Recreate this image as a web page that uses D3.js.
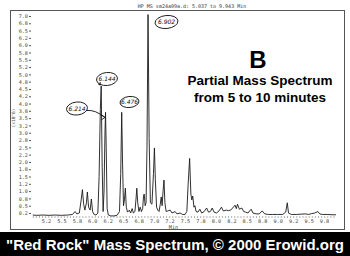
<!DOCTYPE html>
<html><head><meta charset="utf-8">
<script src="https://cdn.jsdelivr.net/npm/d3@7"></script>
<style>html,body{margin:0;padding:0;background:#fff;overflow:hidden}svg{display:block}</style>
</head><body>
<script>
// ---- data ----
const traceTime = [5.037,5.10,5.20,5.30,5.40,5.50,5.60,5.68,5.72,5.75,5.79,5.82,5.84,5.86,5.88,5.905,5.92,5.94,5.965,5.985,6.005,6.03,6.06,6.09,6.11,6.13,6.144,6.16,6.175,6.19,6.205,6.214,6.225,6.24,6.26,6.30,6.35,6.40,6.44,6.46,6.476,6.49,6.505,6.52,6.535,6.55,6.57,6.60,6.62,6.645,6.665,6.69,6.71,6.72,6.735,6.755,6.775,6.795,6.815,6.83,6.84,6.855,6.87,6.885,6.902,6.92,6.94,6.965,6.99,7.005,7.02,7.04,7.06,7.08,7.10,7.115,7.13,7.145,7.16,7.175,7.195,7.22,7.26,7.29,7.34,7.37,7.42,7.46,7.50,7.53,7.55,7.575,7.595,7.61,7.625,7.645,7.66,7.68,7.71,7.74,7.77,7.81,7.85,7.88,7.91,7.94,7.97,8.01,8.05,8.09,8.12,8.17,8.20,8.24,8.27,8.31,8.33,8.35,8.38,8.42,8.45,8.48,8.52,8.57,8.60,8.65,8.70,8.75,8.79,8.85,8.92,9.00,9.08,9.13,9.155,9.175,9.22,9.30,9.38,9.45,9.50,9.55,9.60,9.65,9.68,9.72,9.80,9.88,9.943];
const traceAbund = [0.18,0.17,0.18,0.17,0.18,0.17,0.18,0.20,0.30,0.22,0.25,0.70,1.05,0.55,0.35,0.60,0.97,0.45,0.35,0.73,0.30,0.20,0.18,0.25,1.50,3.80,4.60,1.80,0.30,1.00,3.00,3.70,2.50,0.40,0.18,0.15,0.15,0.17,0.30,1.60,3.70,1.90,0.50,0.70,1.10,0.45,0.28,0.35,0.25,0.40,0.25,0.30,0.80,1.10,0.60,0.30,0.45,0.30,0.40,0.85,0.90,0.50,0.60,2.50,7.05,2.80,0.60,0.55,1.60,2.48,1.40,0.45,0.35,0.30,0.55,0.80,0.50,1.00,1.38,0.60,0.30,0.32,0.35,0.25,0.30,0.22,0.25,0.20,0.20,0.30,1.20,2.12,0.90,0.70,0.83,0.45,0.50,0.30,0.28,0.38,0.25,0.30,0.42,0.28,0.30,0.42,0.28,0.25,0.32,0.45,0.32,0.35,0.33,0.35,0.42,0.52,0.40,0.55,0.38,0.42,0.30,0.28,0.25,0.38,0.25,0.22,0.22,0.32,0.22,0.20,0.20,0.20,0.20,0.28,0.60,0.25,0.20,0.20,0.21,0.22,0.20,0.23,0.25,0.30,0.22,0.20,0.20,0.19,0.19];

const xTickValues = [5.25,5.5,5.75,6.0,6.25,6.5,6.75,7.0,7.25,7.5,7.75,8.0,8.25,8.5,8.75,9.0,9.25,9.5,9.75];
const xTickLabels = ["5.2","5.5","5.8","6.0","6.2","6.5","6.8","7.0","7.2","7.5","7.8","8.0","8.2","8.5","8.8","9.0","9.2","9.5","9.8"];
const yTickValues = [0.25,0.5,0.75,1.0,1.25,1.5,1.75,2.0,2.25,2.5,2.75,3.0,3.25,3.5,3.75,4.0,4.25,4.5,4.75,5.0,5.25,5.5,5.75,6.0,6.25,6.5,6.75,7.0];
const yTickLabels = ["0.2","0.5","0.8","1.0","1.2","1.5","1.8","2.0","2.2","2.5","2.8","3.0","3.2","3.5","3.8","4.0","4.2","4.5","4.8","5.0","5.2","5.5","5.8","6.0","6.2","6.5","6.8","7.0"];

const peakLabels = ["6.214","6.144","6.476","6.902"];
const peakTimes  = [6.214, 6.144, 6.476, 6.902];

const W = 350, H = 256;
const svg = d3.select("body").append("svg").attr("width", W).attr("height", H);

const x = d3.scaleLinear().domain([5, 10]).range([30.5, 339.5]);
const y = d3.scaleLinear().domain([0.25, 7]).range([213, 16]);

// frame
svg.append("rect").attr("x", 10.5).attr("y", 10.5).attr("width", 334).attr("height", 219)
  .attr("fill", "none").attr("stroke", "#555").attr("stroke-width", 1);

// header
svg.append("text").attr("x", 192).attr("y", 8).attr("text-anchor", "middle")
  .attr("font-family", "DejaVu Sans Mono").attr("font-size", 5).attr("fill", "#333")
  .text("HP MS sm24a09a.d:    5.037 to 9.943 Min");

// y axis
const yAxis = d3.axisLeft(y).tickValues(yTickValues).tickSize(2).tickPadding(1)
  .tickFormat((d, i) => yTickLabels[i]);
const gy = svg.append("g").attr("transform", "translate(31,0)").call(yAxis);
gy.select(".domain").remove();
gy.selectAll("text").attr("font-family", "DejaVu Sans Mono").attr("font-size", 5.2).attr("fill", "#444");
gy.selectAll("line").attr("stroke", "#555");

svg.append("text").attr("transform", "translate(15,118) rotate(-90)").attr("text-anchor", "middle")
  .attr("font-family", "DejaVu Sans Mono").attr("font-size", 4.5).attr("fill", "#555").text("(x10^6)");

// x axis
const xAxis = d3.axisBottom(x).tickValues(xTickValues).tickSize(0).tickPadding(2)
  .tickFormat((d, i) => xTickLabels[i]);
const gx = svg.append("g").attr("transform", "translate(0,217)").call(xAxis);
gx.select(".domain").attr("stroke", "#666").attr("stroke-dasharray", "1,2.1").attr("d", `M${x(5.037)},0H${x(9.943)}`);
gx.selectAll("text").attr("font-family", "DejaVu Sans Mono").attr("font-size", 5.2).attr("fill", "#444");
svg.append("text").attr("x", x(7.25) + 4).attr("y", 229).attr("text-anchor", "middle")
  .attr("font-family", "DejaVu Sans Mono").attr("font-size", 5.2).attr("fill", "#444").text("Min");

// trace
svg.append("clipPath").attr("id", "clip").append("rect").attr("x", 11).attr("y", 11).attr("width", 333).attr("height", 218);
const pts = traceTime.map((t, i) => [t, traceAbund[i]]);
svg.append("path").datum(pts).attr("clip-path", "url(#clip)")
  .attr("d", d3.line().x(d => x(d[0])).y(d => y(d[1])))
  .attr("fill", "none").attr("stroke", "#1a1a1a").attr("stroke-width", 0.9).attr("stroke-linejoin", "round");

// hand-drawn annotations
const ann = [
  {cx: 77, cy: 108.5, rx: 10.5, ry: 6.5},
  {cx: 107, cy: 79, rx: 10.5, ry: 6.5},
  {cx: 129.5, cy: 102, rx: 9.5, ry: 5.5},
  {cx: 166.5, cy: 22, rx: 11.5, ry: 6.5}
];
const ga = svg.append("g");
ann.forEach((a, i) => {
  ga.append("ellipse").attr("cx", a.cx).attr("cy", a.cy).attr("rx", a.rx).attr("ry", a.ry)
    .attr("fill", "#fff").attr("stroke", "#111").attr("stroke-width", 0.9)
    .attr("transform", `rotate(-6,${a.cx},${a.cy})`);
  ga.append("text").attr("x", a.cx).attr("y", a.cy + 2).attr("text-anchor", "middle")
    .attr("font-family", "DejaVu Sans").attr("font-style", "italic").attr("font-size", 6).attr("fill", "#111")
    .text(peakLabels[i]);
});
// arrows to peaks
const a0 = ann[0], a1 = ann[1];
const xp0 = x(peakTimes[0]), yp0 = y(3.7) + 5;
ga.append("path").attr("d", `M${a0.cx + a0.rx - 1},${a0.cy + 2} Q${(a0.cx + xp0) / 2 + 4},${a0.cy + 1} ${xp0 - 1},${yp0}`)
  .attr("fill", "none").attr("stroke", "#111").attr("stroke-width", 0.9);
ga.append("path").attr("d", `M${xp0 - 4},${yp0 - 2.5} L${xp0 - 0.5},${yp0} L${xp0 - 4},${yp0 + 2.5}`)
  .attr("fill", "none").attr("stroke", "#111").attr("stroke-width", 0.9);
const xp1 = x(peakTimes[1]), yp1 = y(4.6) - 1;
ga.append("path").attr("d", `M${a1.cx - a1.rx + 3},${a1.cy + 5} Q${xp1 - 3},${yp1 - 2} ${xp1 - 1},${yp1}`)
  .attr("fill", "none").attr("stroke", "#111").attr("stroke-width", 0.9);
ga.append("path").attr("d", `M${xp1 - 3},${yp1 - 1} L${xp1 - 1},${yp1} L${xp1 - 1},${yp1 - 3}`)
  .attr("fill", "none").attr("stroke", "#111").attr("stroke-width", 0.9);

// right-hand caption
svg.append("text").attr("x", 258).attr("y", 68).attr("text-anchor", "middle")
  .attr("font-family", "Liberation Sans").attr("font-weight", "bold").attr("font-size", 24).attr("fill", "#000").text("B");
svg.append("text").attr("x", 260).attr("y", 85).attr("text-anchor", "middle")
  .attr("font-family", "Liberation Sans").attr("font-weight", "bold").attr("font-size", 13.5).attr("fill", "#000").text("Partial Mass Spectrum");
svg.append("text").attr("x", 260).attr("y", 102).attr("text-anchor", "middle")
  .attr("font-family", "Liberation Sans").attr("font-weight", "bold").attr("font-size", 13.5).attr("fill", "#000").text("from 5 to 10 minutes");

// bottom banner
svg.append("rect").attr("x", 0).attr("y", 232).attr("width", W).attr("height", H - 232).attr("fill", "#000");
svg.append("text").attr("x", 175).attr("y", 250).attr("text-anchor", "middle")
  .attr("font-family", "Liberation Sans").attr("font-weight", "bold").attr("font-size", 15).attr("fill", "#fff")
  .text("\"Red Rock\" Mass Spectrum, \u00A9 2000 Erowid.org");
</script>
</body></html>
